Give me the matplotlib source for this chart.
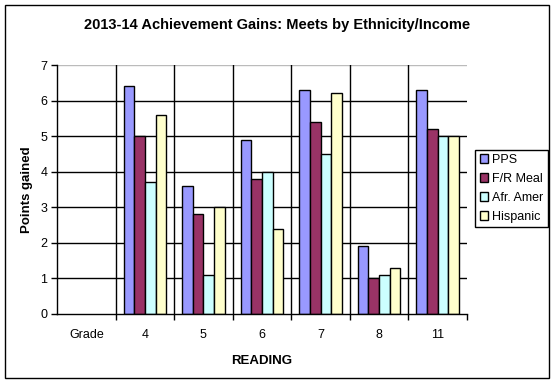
import numpy as np
import matplotlib
matplotlib.use("Agg")
import matplotlib.pyplot as plt
from matplotlib.patches import Rectangle

plt.rcParams['font.family'] = ['Liberation Sans', 'DejaVu Sans']

categories = ["Grade", "4", "5", "6", "7", "8", "11"]
series_names = ["PPS", "F/R Meal", "Afr. Amer", "Hispanic"]
pps = [np.nan, 6.4, 3.6, 4.9, 6.3, 1.9, 6.3]
fr_meal = [np.nan, 5.0, 2.8, 3.8, 5.4, 1.0, 5.2]
afr_amer = [np.nan, 3.7, 1.1, 4.0, 4.5, 1.1, 5.0]
hispanic = [np.nan, 5.6, 3.0, 2.4, 6.2, 1.3, 5.0]
colors = ["#9999FF", "#993366", "#CCFFFF", "#FFFFCC"]

W, H = 555, 383
fig = plt.figure(figsize=(W / 100, H / 100), dpi=100)
ax = fig.add_axes([57 / W, (H - 314) / H, 410 / W, 249 / H])

x = np.arange(len(categories))
w = 1 / 5.5
for j, (vals, name, c) in enumerate(zip([pps, fr_meal, afr_amer, hispanic], series_names, colors)):
    ax.bar(x + (j - 1.5) * w, vals, width=w, color=c, edgecolor="black", linewidth=1, label=name, zorder=3)

ax.set_xlim(-0.5, len(categories) - 0.5)
ax.set_ylim(0, 7)
ax.set_yticks(range(0, 8))
ax.set_xticks(x)
ax.set_xticklabels(categories)
ax.set_xticks(np.arange(0.5, len(categories)), minor=True)
ax.tick_params(axis='x', which='major', length=0, labelsize=9, pad=11)
ax.tick_params(axis='x', which='minor', length=4, width=1, direction='out', color='black')
ax.tick_params(axis='y', length=4, width=1, direction='out', labelsize=9, pad=3)

for yv in range(1, 7):
    ax.axhline(yv, color='black', lw=1, zorder=1)
ax.axhline(7, color='#BBBBBB', lw=1, zorder=1)
for xv in np.arange(0.5, len(categories) - 1):
    ax.axvline(xv, color='black', lw=1, zorder=1)

for s in ['top', 'right']:
    ax.spines[s].set_visible(False)
for s in ['left', 'bottom']:
    ax.spines[s].set_linewidth(1)
    ax.spines[s].set_zorder(4)

ax.set_xlabel("READING", fontsize=9.5, fontweight='bold', labelpad=10)
ax.set_ylabel("Points gained", fontsize=9.5, fontweight='bold', labelpad=5)

fig.text(277 / W, 1 - 25 / H, "2013-14 Achievement Gains: Meets by Ethnicity/Income",
         ha='center', va='center', fontsize=10.5, fontweight='bold')

leg = fig.legend(loc='center', bbox_to_anchor=(511.5 / W, 1 - 188.5 / H), fontsize=9,
                 handlelength=0.7, handleheight=0.7, handletextpad=0.3, borderpad=0.35,
                 labelspacing=0.55, fancybox=False, framealpha=1, borderaxespad=0)
leg.get_frame().set_edgecolor('black')
leg.get_frame().set_linewidth(1)

fig.patches.append(Rectangle((5 / W, 5 / H), 544 / W, 373 / H, transform=fig.transFigure,
                             fill=False, edgecolor='black', lw=1))

fig.savefig("out.png", dpi=100)
